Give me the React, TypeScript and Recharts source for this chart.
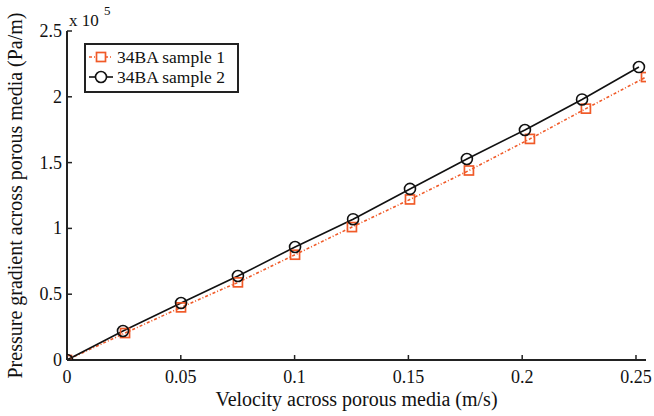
import React from 'react';
import {
  LineChart, Line, XAxis, YAxis, Label,
} from 'recharts';

const velocity1 = [0, 0.0255, 0.0501, 0.0751, 0.1002, 0.1252, 0.1507, 0.1766, 0.2034, 0.228, 0.2544];
const pressure1 = [0, 20500, 40000, 59000, 80000, 101000, 122000, 144000, 168000, 191000, 215000];
const velocity2 = [0, 0.0246, 0.0501, 0.0751, 0.1002, 0.1257, 0.1507, 0.1757, 0.2012, 0.2263, 0.2513];
const pressure2 = [0, 22000, 43300, 63800, 85900, 107000, 130000, 152700, 174800, 198000, 222600];

const xTicks = [0, 0.05, 0.1, 0.15, 0.2, 0.25];
const yTicks = [0, 50000, 100000, 150000, 200000, 250000];
const seriesNames = ['34BA sample 1', '34BA sample 2'];

const sample1 = velocity1.map((v, i) => ({ x: v, y: pressure1[i] }));
const sample2 = velocity2.map((v, i) => ({ x: v, y: pressure2[i] }));

const FONT = "'Liberation Serif', 'Times New Roman', serif";
const AXIS = '#222';
const ORANGE = '#f05a28';
const TICK = 5;

const fmtX = (v: number) => (v === 0 ? '0' : String(+v.toFixed(2)));
const fmtY = (v: number) => String(+(v / 1e5).toFixed(1));

const BottomTick = (p: any) => (
  <g>
    <line x1={p.x} x2={p.x} y1={p.y} y2={p.y - TICK} stroke={AXIS} strokeWidth={1.5} />
    <text x={p.x} y={p.y + 23} textAnchor="middle" fontFamily={FONT} fontSize={18} fill="#111">
      {fmtX(p.payload.value)}
    </text>
  </g>
);
const TopTick = (p: any) => (
  <line x1={p.x} x2={p.x} y1={p.y} y2={p.y + TICK} stroke={AXIS} strokeWidth={1.5} />
);
const LeftTick = (p: any) => (
  <g>
    <line x1={p.x} x2={p.x + TICK} y1={p.y} y2={p.y} stroke={AXIS} strokeWidth={1.5} />
    <text x={p.x - 5} y={p.y + 6} textAnchor="end" fontFamily={FONT} fontSize={18} fill="#111">
      {fmtY(p.payload.value)}
    </text>
  </g>
);
const RightTick = (p: any) => (
  <line x1={p.x} x2={p.x - TICK} y1={p.y} y2={p.y} stroke={AXIS} strokeWidth={1.5} />
);

const SquareDot = (p: any) => (
  <rect key={`s-${p.index}`} x={p.cx - 4.5} y={p.cy - 4.5} width={9} height={9}
    fill="none" stroke={ORANGE} strokeWidth={1.7} />
);
const CircleDot = (p: any) => (
  <circle key={`c-${p.index}`} cx={p.cx} cy={p.cy} r={5.5} fill="none" stroke="#111" strokeWidth={1.6} />
);

const LegendBox = () => (
  <div style={{
    position: 'absolute', left: 84, top: 43, width: 150, height: 44,
    border: `2px solid ${AXIS}`, background: '#fff', padding: '2px 0 0 1px',
    fontFamily: FONT, fontSize: 17.5, color: '#111', lineHeight: '20px',
  }}>
    {seriesNames.map((name, i) => (
      <div key={name} style={{ display: 'flex', alignItems: 'center' }}>
        <svg width={27} height={14} style={{ marginRight: 3 }}>
          {i === 0 ? (
            <>
              <line x1={2} x2={26} y1={7} y2={7} stroke={ORANGE} strokeWidth={1.5} strokeDasharray="3 2 1 2" />
              <rect x={9.5} y={2.5} width={9} height={9} fill="#fff" stroke={ORANGE} strokeWidth={1.7} />
            </>
          ) : (
            <>
              <line x1={2} x2={26} y1={7} y2={7} stroke="#111" strokeWidth={1.6} />
              <circle cx={14} cy={7} r={5.5} fill="#fff" stroke="#111" strokeWidth={1.6} />
            </>
          )}
        </svg>
        <span>{name}</span>
      </div>
    ))}
  </div>
);

export default function App() {
  return (
    <div style={{ position: 'absolute', left: 0, top: 0, width: 654, height: 416, background: '#fff' }}>
      <LineChart width={654} height={416} margin={{ top: 31, right: 8, bottom: 0, left: 0 }}>
        <XAxis xAxisId="bottom" dataKey="x" type="number" domain={[0, 0.2544]} ticks={xTicks}
          allowDataOverflow height={56} tickSize={0} tickMargin={0} tickLine={false}
          axisLine={{ stroke: AXIS, strokeWidth: 2 }} tick={BottomTick}>
          <Label value="Velocity across porous media (m/s)" position="insideBottom" offset={10}
            style={{ fontFamily: FONT, fontSize: 20, fill: '#111' }} />
        </XAxis>
        <XAxis xAxisId="top" orientation="top" type="number" domain={[0, 0.2544]} ticks={xTicks}
          allowDataOverflow height={0} tickSize={0} tickMargin={0} tickLine={false}
          axisLine={{ stroke: AXIS, strokeWidth: 2 }} tick={TopTick} />
        <YAxis yAxisId="left" dataKey="y" type="number" domain={[0, 250000]} ticks={yTicks}
          allowDataOverflow width={67} tickSize={0} tickMargin={0} tickLine={false}
          axisLine={{ stroke: AXIS, strokeWidth: 2 }} tick={LeftTick}>
          <Label value="Pressure gradient across porous media (Pa/m)" angle={-90} position="insideLeft"
            offset={15} style={{ fontFamily: FONT, fontSize: 20, fill: '#111', textAnchor: 'middle' }} />
        </YAxis>
        <YAxis yAxisId="right" orientation="right" type="number" domain={[0, 250000]} ticks={yTicks}
          allowDataOverflow width={0} tickSize={0} tickMargin={0} tickLine={false}
          axisLine={{ stroke: AXIS, strokeWidth: 2 }} tick={RightTick} />
        <Line data={sample1} xAxisId="bottom" yAxisId="left" dataKey="y" name={seriesNames[0]}
          stroke={ORANGE} strokeWidth={1.6} strokeDasharray="3 2 1 2" dot={SquareDot}
          isAnimationActive={false} />
        <Line data={sample2} xAxisId="bottom" yAxisId="left" dataKey="y" name={seriesNames[1]}
          stroke="#111" strokeWidth={1.6} dot={CircleDot} isAnimationActive={false} />
        <text x={69} y={26} fontFamily={FONT} fontSize={17} fill="#111">x 10</text>
        <text x={104} y={15} fontFamily={FONT} fontSize={13} fill="#111">5</text>
      </LineChart>
      <LegendBox />
    </div>
  );
}
